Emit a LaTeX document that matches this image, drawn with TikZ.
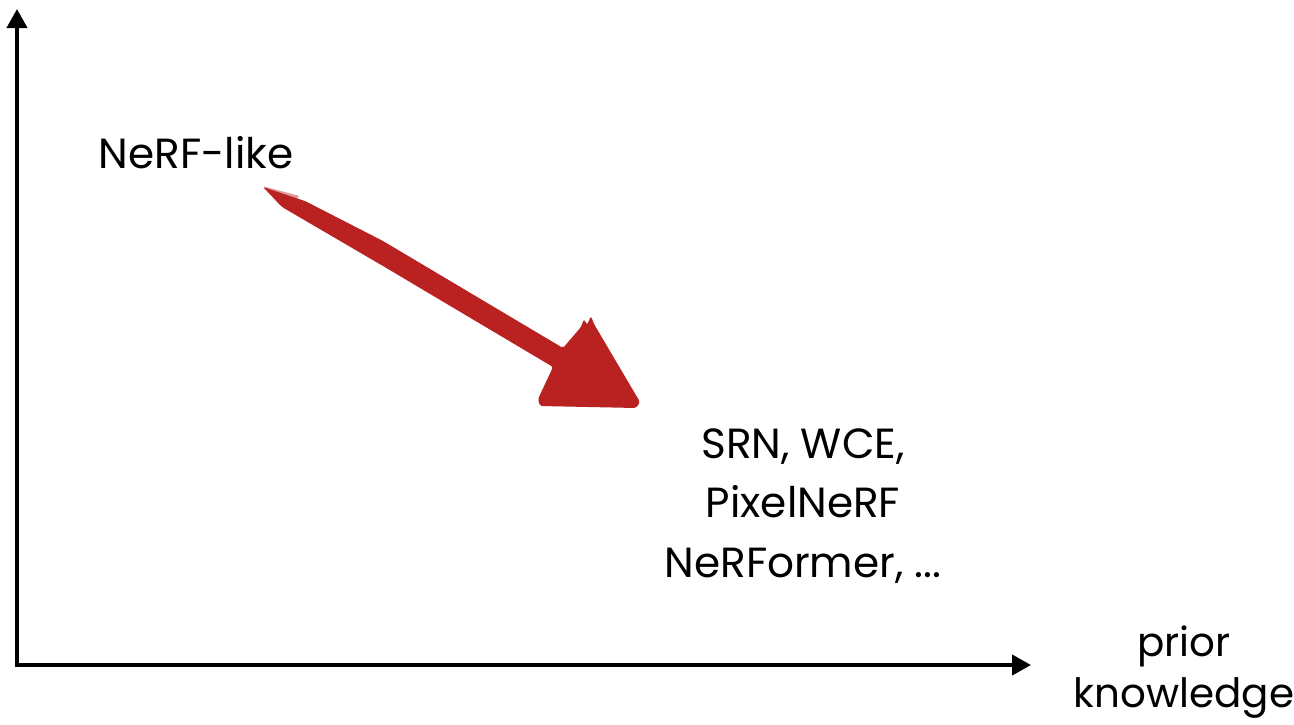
\documentclass[tikz,border=0pt]{standalone}
\usepackage{fontspec}
\setmainfont{Poppins}
\usetikzlibrary{arrows.meta,positioning}
\definecolor{brushRed}{RGB}{186,34,34}

\begin{document}
\begin{tikzpicture}[x=0.02cm, y=-0.02cm,
  axis/.style={line width=2.3pt, line cap=rect,
               -{Triangle[length=0.38cm,width=0.4cm]}},
  lbl/.style={inner sep=0pt, align=center,
              font=\fontsize{24}{34}\selectfont},
  brush/.style={fill=brushRed, draw=none, rounded corners=1pt}
]
  \useasboundingbox (0,0) rectangle (1294,724);
  \coordinate (origin) at (17,665);
  \coordinate (ytop) at (17,9);
  \coordinate (xend) at (1031,665);
  \draw[axis] (origin) -- (ytop);
  \draw[axis] (origin) -- (xend);

  \node[lbl, anchor=base] (nerf) at (196,168) {NeRF-like};
  \node[lbl, anchor=north] (methods) at (803,428)
    {SRN, WCE,\\PixelNeRF\\NeRFormer, ...};
  \node[lbl, anchor=north, font=\fontsize{23}{29}\selectfont]
    (prior) at (1184,625) {prior\\knowledge};

  \fill[brush] (263,187) -- (305,201) -- (383,241) -- (563,348)
    -- (581,327) -- (584,319) -- (587,325) -- (591,316) -- (594,324)
    -- (640,402) -- (636,408) -- (540,406) -- (538,399) -- (553,367)
    -- (383,266) -- (282,207) -- cycle;
  \fill[brush, opacity=0.45] (262,186) -- (300,196) -- (290,204) -- cycle;
  \fill[brush, opacity=0.35] (270,198) -- (320,222) -- (300,214) -- cycle;
\end{tikzpicture}
\end{document}
